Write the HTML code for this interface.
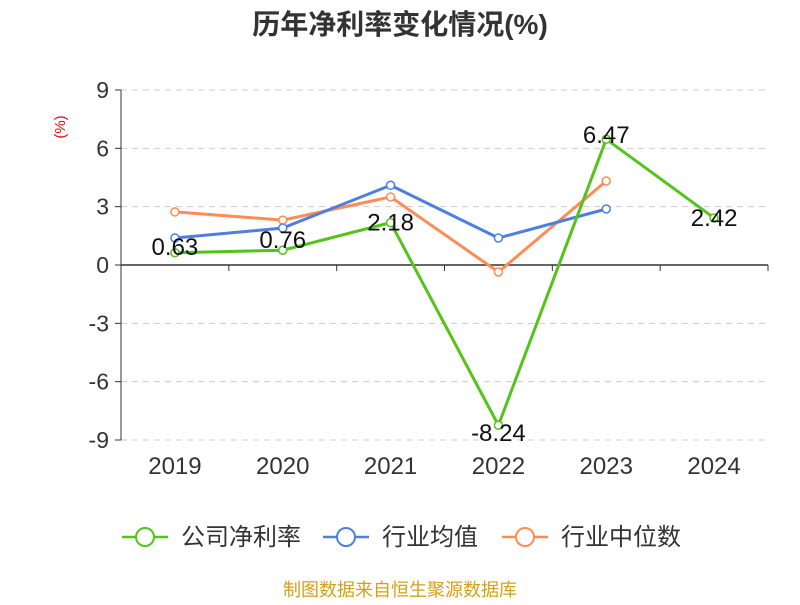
<!DOCTYPE html>
<html><head><meta charset="utf-8"><style>
body{margin:0;background:#fff;font-family:"Liberation Sans","Noto Sans CJK SC",sans-serif;}
</style></head><body>
<svg width="800" height="600" xmlns="http://www.w3.org/2000/svg" font-family="Liberation Sans, Noto Sans CJK SC, sans-serif">
<text x="400" y="34" text-anchor="middle" font-size="28" font-weight="bold" fill="#333">历年净利率变化情况(%)</text>
<text x="65" y="127" text-anchor="middle" font-size="15" fill="#e00" transform="rotate(-90 65 127)">(%)</text>
<g id="grid"></g><g id="axes"></g><g id="series"></g><g id="labels"></g>
<g>
<g><line x1="122" y1="537" x2="168" y2="537" stroke="#52c41a" stroke-width="2.5"/><circle cx="145" cy="537" r="9" fill="#fff" stroke="#52c41a" stroke-width="2"/><text x="181" y="545" font-size="24" fill="#333">公司净利率</text></g>
<g><line x1="323" y1="537" x2="369" y2="537" stroke="#4e7fe0" stroke-width="2.5"/><circle cx="346" cy="537" r="9" fill="#fff" stroke="#4e7fe0" stroke-width="2"/><text x="382" y="545" font-size="24" fill="#333">行业均值</text></g>
<g><line x1="502" y1="537" x2="548" y2="537" stroke="#ff8c55" stroke-width="2.5"/><circle cx="525" cy="537" r="9" fill="#fff" stroke="#ff8c55" stroke-width="2"/><text x="561" y="545" font-size="24" fill="#333">行业中位数</text></g>
</g>
<text x="400" y="596" text-anchor="middle" font-size="18" fill="#d4a017">制图数据来自恒生聚源数据库</text>
</svg>
<script>
const categories=["2019","2020","2021","2022","2023","2024"];
const companyValues=[0.63,0.76,2.18,-8.24,6.47,2.42];
const industryAvg=[1.39,1.9,4.1,1.39,2.88,null];
const industryMedian=[2.73,2.31,3.5,-0.36,4.32,null];
const yTicks=[9,6,3,0,-3,-6,-9];
const NS="http://www.w3.org/2000/svg";
const L=121,R=768,T=90,B=440,yMin=-9,yMax=9;
const y=v=>B-(v-yMin)/(yMax-yMin)*(B-T);
const step=(R-L)/categories.length;
const x=i=>L+step*(i+0.5);
function mk(tag,attrs,parent){const e=document.createElementNS(NS,tag);for(const k in attrs)e.setAttribute(k,attrs[k]);document.getElementById(parent).appendChild(e);return e;}
yTicks.forEach(t=>{
 const g=mk("line",{x1:L,x2:R,y1:y(t),y2:y(t),stroke:t===0?"#333":"#ccc","stroke-dasharray":t===0?"":"6,5","stroke-width":t===0?1.5:1},"grid");
 
 
 const tk=mk("line",{x1:L-6,x2:L,y1:y(t),y2:y(t),stroke:"#333"},"axes");
 
 
 const tx=mk("text",{x:L-12,y:y(t)+8,"text-anchor":"end","font-size":23,fill:"#333"},"axes");
 tx.textContent=t;
 
 
});
const ax=mk("line",{x1:L,x2:L,y1:T,y2:B,stroke:"#333"},"axes");


categories.forEach((c,i)=>{
 const tk=mk("line",{x1:L+step*(i+1),x2:L+step*(i+1),y1:y(0),y2:y(0)+6,stroke:"#333"},"axes");
 
 
 const tx=mk("text",{x:x(i),y:474,"text-anchor":"middle","font-size":24,fill:"#333"},"axes");
 tx.textContent=c;
 
 
});
function series(vals,color,name){
 const pts=vals.map((v,i)=>v==null?null:[x(i),y(v)]).filter(p=>p);
 const pl=mk("polyline",{points:pts.map(p=>p.join(",")).join(" "),fill:"none",stroke:color,"stroke-width":3},"series");
 
 
 pts.forEach(p=>{
  const c=mk("circle",{cx:p[0],cy:p[1],r:4,fill:"#fff",stroke:color,"stroke-width":1.5},"series");
  
  
 });
}
series(industryMedian,"#ff8c55","industry-median");
series(industryAvg,"#4e7fe0","industry-avg");
series(companyValues,"#52c41a","company");
const labelOffsets=[-6,-10,0,8,-4,0];
companyValues.forEach((v,i)=>{
 const t=mk("text",{x:x(i),y:y(v)+8+labelOffsets[i],"text-anchor":"middle","font-size":24,fill:"#111"},"labels");
 t.textContent=v.toFixed(2);
 
 
});
</script>
</body></html>
